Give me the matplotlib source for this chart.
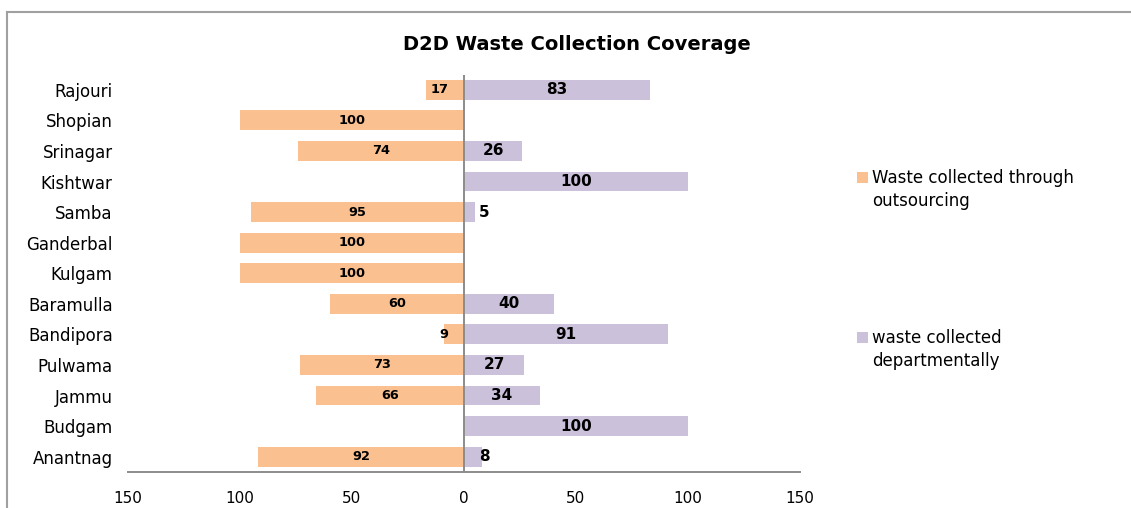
import matplotlib
matplotlib.use("Agg")
import matplotlib.pyplot as plt
from matplotlib.patches import Rectangle
from matplotlib.lines import Line2D

districts = ["Rajouri", "Shopian", "Srinagar", "Kishtwar", "Samba", "Ganderbal",
             "Kulgam", "Baramulla", "Bandipora", "Pulwama", "Jammu", "Budgam", "Anantnag"]
outsourced = [17, 100, 74, 0, 95, 100, 100, 60, 9, 73, 66, 0, 92]
departmental = [83, 0, 26, 100, 5, 0, 0, 40, 91, 27, 34, 100, 8]
series_names = ["Waste collected through\noutsourcing", "waste collected\ndepartmentally"]
tick_values = [-150, -100, -50, 0, 50, 100, 150]
tick_labels = ["150", "100", "50", "0", "50", "100", "150"]

ORANGE = "#FAC090"
PURPLE = "#CCC1DA"
GREY = "#8C8C8C"

W, H = 1131, 508
fig = plt.figure(figsize=(W / 100, H / 100), dpi=100)
fig.patch.set_facecolor("white")

# axes: x from -150 at px 128 to 150 at px 800; y from px 74 to 472
left, right, top, bottom = 128, 800, 74.5, 472
ax = fig.add_axes([left / W, 1 - bottom / H, (right - left) / W, (bottom - top) / H])

y = list(range(len(districts)))
bar_h = 0.65
ax.barh(y, [-v for v in outsourced], height=bar_h, color=ORANGE, zorder=2)
ax.barh(y, departmental, height=bar_h, color=PURPLE, zorder=2)

ax.set_xlim(-150, 150)
ax.set_ylim(len(districts) - 0.5, -0.5)
ax.axvline(0, color=GREY, lw=1.4, zorder=3)

for s in ["top", "right", "left"]:
    ax.spines[s].set_visible(False)
ax.spines["bottom"].set_color(GREY)
ax.spines["bottom"].set_linewidth(1.4)

ax.set_yticks(y)
ax.set_yticklabels(districts, fontsize=12)
ax.tick_params(axis="y", length=0, pad=11)
ax.set_xticks(tick_values)
ax.set_xticklabels(tick_labels, fontsize=11)
ax.tick_params(axis="x", length=0, pad=14)

# value labels; short bars get their label pushed away from the axis
edge = 6.8
for i, v in enumerate(outsourced):
    if v <= 0:
        continue
    if v < 20:
        ax.text(-edge, i, str(v), ha="right", va="center", fontsize=9.3,
                fontweight="bold", zorder=4)
    else:
        ax.text(-v / 2, i, str(v), ha="center", va="center", fontsize=9.3,
                fontweight="bold", zorder=4)
for i, v in enumerate(departmental):
    if v <= 0:
        continue
    if v < 20:
        ax.text(edge, i, str(v), ha="left", va="center", fontsize=11,
                fontweight="bold", zorder=4)
    else:
        ax.text(v / 2, i, str(v), ha="center", va="center", fontsize=11,
                fontweight="bold", zorder=4)

fig.text(577 / W, 1 - 45 / H, "D2D Waste Collection Coverage", ha="center",
         va="center", fontsize=14, fontweight="bold")

# legend with swatches aligned to the first text line
for (label, color, ytop) in [(series_names[0], ORANGE, 170), (series_names[1], PURPLE, 330)]:
    fig.patches.append(Rectangle((857 / W, 1 - (ytop + 13) / H), 11 / W, 11 / H,
                                 transform=fig.transFigure, facecolor=color,
                                 edgecolor="none"))
    fig.text(872 / W, 1 - (ytop - 1) / H, label, ha="left", va="top", fontsize=12,
             linespacing=1.35)

# chart frame
fig.add_artist(Line2D([7 / W, 7 / W], [0, 1 - 11.5 / H], transform=fig.transFigure,
                      color="#A0A0A0", lw=1.5))
fig.add_artist(Line2D([7 / W, 1], [1 - 11.5 / H, 1 - 11.5 / H], transform=fig.transFigure,
                      color="#A0A0A0", lw=1.5))

fig.savefig("out.png", dpi=100)
